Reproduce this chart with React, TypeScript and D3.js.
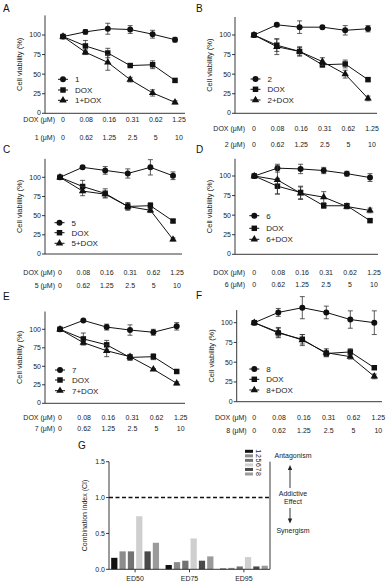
import React from "react";
import * as d3 from "d3";

const doxTicks = ["0", "0.08", "0.16", "0.31", "0.62", "1.25"];
const cmpTicks = ["0", "0.62", "1.25", "2.5", "5", "10"];
const compounds = ["1", "2", "5", "6", "7", "8"];

const cmpVals = [
  [98, 104, 108, 107, 101, 94],
  [100, 113, 110, 110, 106, 108],
  [100, 113, 109, 105, 113, 102],
  [100, 110, 109, 107, 103, 98],
  [100, 112, 103, 99, 96, 104],
  [100, 113, 119, 113, 104, 100],
];
const cmpErr = [
  [0, 3, 7, 5, 5, 3],
  [0, 2, 8, 2, 6, 4],
  [0, 2, 5, 6, 10, 5],
  [0, 5, 6, 4, 3, 5],
  [0, 1, 4, 7, 4, 5],
  [0, 5, 14, 8, 11, 15],
];
const doxVals = [
  [98, 86, 77, 61, 62, 42],
  [100, 87, 79, 62, 63, 43],
  [100, 88, 79, 62, 63, 43],
  [100, 87, 79, 62, 62, 43],
  [100, 87, 79, 62, 63, 43],
  [100, 87, 79, 61, 63, 43],
];
const doxErr = [
  [0, 7, 6, 1, 5, 2],
  [0, 8, 6, 3, 5, 2],
  [0, 8, 6, 4, 4, 2],
  [0, 10, 8, 3, 3, 2],
  [0, 8, 6, 4, 4, 2],
  [0, 6, 6, 4, 4, 2],
];
const comboVals = [
  [98, 78, 65, 43, 26, 14],
  [100, 85, 79, 66, 50, 19],
  [100, 82, 78, 62, 57, 19],
  [100, 95, 78, 73, 61, 56],
  [100, 82, 71, 63, 46, 27],
  [100, 88, 78, 62, 57, 32],
];
const comboErr = [
  [0, 3, 10, 3, 4, 2],
  [0, 10, 5, 5, 5, 3],
  [0, 6, 4, 5, 3, 2],
  [0, 18, 8, 7, 3, 3],
  [0, 3, 8, 3, 1, 2],
  [0, 6, 7, 5, 3, 3],
];
const yTicks = [0, 25, 50, 75, 100];

const ciGroups = ["ED50", "ED75", "ED95"];
const ciED50 = [0.16, 0.25, 0.25, 0.74, 0.25, 0.37];
const ciED75 = [0.06, 0.1, 0.12, 0.43, 0.12, 0.18];
const ciED95 = [0.01, 0.02, 0.04, 0.17, 0.04, 0.05];
const ciTicks = [0, 0.5, 1.0, 1.5];
const barColors = ["#111111", "#8c8c8c", "#737373", "#cfcfcf", "#4a4a4a", "#9a9a9a"];

const FONT = "'Liberation Sans', Arial, Helvetica, sans-serif";

// layout per panel
const panels = [
  { letter: "A", lx: 3, ly: 12, ax: 45, p0: 63, p1: 175, ar: 185, y0: 113.3, y100: 35, top: 125, r1: 121, r2: 140, mx: 63, leg: [79.3, 90, 100.3] },
  { letter: "B", lx: 196, ly: 12, ax: 235, p0: 254, p1: 368, ar: 377, y0: 113.3, y100: 35, top: 123, r1: 130.5, r2: 147, mx: 255.5, leg: [79, 89.3, 100] },
  { letter: "C", lx: 3, ly: 153, ax: 45, p0: 60, p1: 173, ar: 182, y0: 254, y100: 177.3, top: 124, r1: 274.5, r2: 288, mx: 59.5, leg: [222.7, 232.7, 243.3] },
  { letter: "D", lx: 196, ly: 153, ax: 235, p0: 254.3, p1: 370, ar: 378, y0: 254.3, y100: 176, top: 122, r1: 274, r2: 287, mx: 254.3, leg: [215.7, 228.3, 239.3] },
  { letter: "E", lx: 3, ly: 300, ax: 45, p0: 60, p1: 176.7, ar: 185, y0: 403.3, y100: 329.3, top: 124, r1: 419, r2: 430.5, mx: 60, leg: [370, 380, 390.7] },
  { letter: "F", lx: 196, ly: 299, ax: 236.7, p0: 254.3, p1: 374.3, ar: 382, y0: 401.7, y100: 322.7, top: 116, r1: 419, r2: 433, mx: 254.3, leg: [369, 379.3, 390] },
];

const symCircle = d3.symbol().type(d3.symbolCircle).size(28)() as string;
const symSquare = d3.symbol().type(d3.symbolSquare).size(30)() as string;
const symTri = d3.symbol().type(d3.symbolTriangle).size(24)() as string;
const syms = [symCircle, symSquare, symTri];

function Series({ vals, errs, x, y, sym }: any) {
  const line = d3.line<number>().x((_, i) => x(doxTicks[i])).y((v) => y(v));
  return (
    <g>
      <path d={line(vals) as string} fill="none" stroke="#111" strokeWidth={1} />
      {vals.map((v: number, i: number) => {
        const cx = x(doxTicks[i]);
        const e = errs[i];
        return (
          <g key={i}>
            {e > 0 && (
              <g stroke="#333" strokeWidth={0.8}>
                <line x1={cx} x2={cx} y1={y(v - e)} y2={y(v + e)} />
                <line x1={cx - 2.5} x2={cx + 2.5} y1={y(v - e)} y2={y(v - e)} />
                <line x1={cx - 2.5} x2={cx + 2.5} y1={y(v + e)} y2={y(v + e)} />
              </g>
            )}
            <path d={sym} transform={`translate(${cx},${y(v)})`} fill="#111" />
          </g>
        );
      })}
    </g>
  );
}

function LinePanel({ p, idx }: any) {
  const y = d3.scaleLinear().domain([0, 100]).range([p.y0, p.y100]);
  const x = d3.scalePoint<string>().domain(doxTicks).range([p.p0, p.p1]);
  const xl = d3.scalePoint<string>().domain(doxTicks).range([p.p0, p.p1 + 4]);
  const xl2 = d3.scalePoint<string>().domain(cmpTicks).range([p.p0, p.p1 + 4]);
  const c = compounds[idx];
  const series = [
    { vals: cmpVals[idx], errs: cmpErr[idx], name: c },
    { vals: doxVals[idx], errs: doxErr[idx], name: "DOX" },
    { vals: comboVals[idx], errs: comboErr[idx], name: `${c}+DOX` },
  ];
  const rowLabelX = p.ax + 10;
  return (
    <g fontFamily={FONT}>
      <text x={p.lx} y={p.ly} fontSize={10} fill="#111">{p.letter}</text>
      <line x1={p.ax} x2={p.ax} y1={y(p.top)} y2={p.y0} stroke="#222" strokeWidth={0.9} />
      <line x1={p.ax} x2={p.ar} y1={p.y0} y2={p.y0} stroke="#222" strokeWidth={0.9} />
      {yTicks.map((t) => (
        <g key={t}>
          <line x1={p.ax - 3} x2={p.ax} y1={y(t)} y2={y(t)} stroke="#222" strokeWidth={0.9} />
          <text x={p.ax - 4} y={y(t)} dy={t === 0 ? "0.3em" : "0.35em"} textAnchor="end" fontSize={7} fill="#222">{t}</text>
        </g>
      ))}
      <text transform={`translate(${p.ax - 23},${(p.y0 + y(p.top)) / 2}) rotate(-90)`} textAnchor="middle" fontSize={7.5} fill="#222">Cell viability (%)</text>
      {series.map((s, i) => (
        <Series key={i} vals={s.vals} errs={s.errs} x={x} y={y} sym={syms[i]} />
      ))}
      {series.map((s, i) => (
        <g key={i}>
          <line x1={p.mx - 5} x2={p.mx + 5} y1={p.leg[i]} y2={p.leg[i]} stroke="#111" strokeWidth={1} />
          <path d={syms[i]} transform={`translate(${p.mx},${p.leg[i]})`} fill="#111" />
          <text x={p.mx + 12} y={p.leg[i]} dy="0.35em" fontSize={8} fill="#222">{s.name}</text>
        </g>
      ))}
      <text x={rowLabelX} y={p.r1 + 0.5} textAnchor="end" fontSize={7} fill="#222">DOX (μM)</text>
      <text x={rowLabelX} y={p.r2} textAnchor="end" fontSize={7} fill="#222">{`${c} (μM)`}</text>
      {doxTicks.map((t) => (
        <text key={t} x={xl(t)} y={p.r1 + 0.5} textAnchor="middle" fontSize={7} fill="#222">{t}</text>
      ))}
      {cmpTicks.map((t) => (
        <text key={t} x={xl2(t)} y={p.r2} textAnchor="middle" fontSize={7} fill="#222">{t}</text>
      ))}
    </g>
  );
}

function CIPanel() {
  const ax = 109;
  const right = 270;
  const y = d3.scaleLinear().domain([0, 1.5]).range([569.3, 461.7]);
  const xg = d3.scaleBand<string>().domain(ciGroups).range([ax, right]).paddingInner(0.12).paddingOuter(0.04);
  const xb = d3.scaleBand<string>().domain(compounds).range([0, xg.bandwidth()]).paddingInner(0.25);
  const data = [ciED50, ciED75, ciED95];
  const legY = d3.scalePoint<string>().domain(compounds).range([451.3, 474]);
  return (
    <g fontFamily={FONT}>
      <text x={78} y={449} fontSize={10} fill="#111">G</text>
      {data.map((arr, gi) =>
        arr.map((v, i) => (
          <rect key={`${gi}-${i}`} x={(xg(ciGroups[gi]) as number) + (xb(compounds[i]) as number)} y={y(v)} width={xb.bandwidth()} height={y(0) - y(v)} fill={barColors[i]} />
        ))
      )}
      <line x1={ax} x2={ax} y1={y(1.5)} y2={y(0)} stroke="#222" strokeWidth={0.9} />
      <line x1={ax} x2={right} y1={y(0)} y2={y(0)} stroke="#222" strokeWidth={0.9} />
      <line x1={right} x2={right} y1={y(1.5)} y2={y(0)} stroke="#222" strokeWidth={0.9} />
      {ciTicks.map((t) => (
        <g key={t}>
          <line x1={ax - 3} x2={ax} y1={y(t)} y2={y(t)} stroke="#222" strokeWidth={0.9} />
          <text x={ax - 4} y={y(t)} dy="0.35em" textAnchor="end" fontSize={7} fill="#222">{t.toFixed(1)}</text>
        </g>
      ))}
      {ciGroups.map((g) => {
        const cx = (xg(g) as number) + xg.bandwidth() / 2;
        return (
          <g key={g}>
            <line x1={cx} x2={cx} y1={y(0)} y2={y(0) + 3} stroke="#222" strokeWidth={0.9} />
            <text x={cx} y={580.5} textAnchor="middle" fontSize={7} fill="#222">{g}</text>
          </g>
        );
      })}
      <line x1={ax} x2={right} y1={y(1)} y2={y(1)} stroke="#111" strokeWidth={1.6} strokeDasharray="4,2.5" />
      <text transform={`translate(86.7,${(y(0) + y(1.5)) / 2}) rotate(-90)`} textAnchor="middle" fontSize={7} fill="#222">Combination index (CI)</text>
      {compounds.map((c, i) => (
        <g key={c}>
          <rect x={245} y={(legY(c) as number) - 1.5} width={8} height={3} fill={barColors[i]} />
          <text transform={`translate(258,${legY(c)}) rotate(90)`} textAnchor="middle" dy="0.35em" fontSize={7} fill="#222">{c}</text>
        </g>
      ))}
      <text x={293} y={457.5} textAnchor="middle" fontSize={7} fill="#222">Antagonism</text>
      <line x1={290} x2={290} y1={488} y2={468} stroke="#222" strokeWidth={0.9} />
      <path d="M290,465 L287.8,470 L292.2,470 Z" fill="#222" />
      <text x={293} y={495.5} textAnchor="middle" fontSize={7} fill="#222">Addictive</text>
      <text x={293} y={503.5} textAnchor="middle" fontSize={7} fill="#222">Effect</text>
      <line x1={290} x2={290} y1={508} y2={520} stroke="#222" strokeWidth={0.9} />
      <path d="M290,523.5 L287.8,518.5 L292.2,518.5 Z" fill="#222" />
      <text x={293} y={533} textAnchor="middle" fontSize={7} fill="#222">Synergism</text>
    </g>
  );
}

export default function App() {
  return (
    <svg width={392} height={583} style={{ position: "absolute", left: 0, top: 0, background: "#fff" }}>
      <rect width={392} height={583} fill="#fff" />
      {panels.map((p, i) => (
        <LinePanel key={i} p={p} idx={i} />
      ))}
      <CIPanel />
    </svg>
  );
}
